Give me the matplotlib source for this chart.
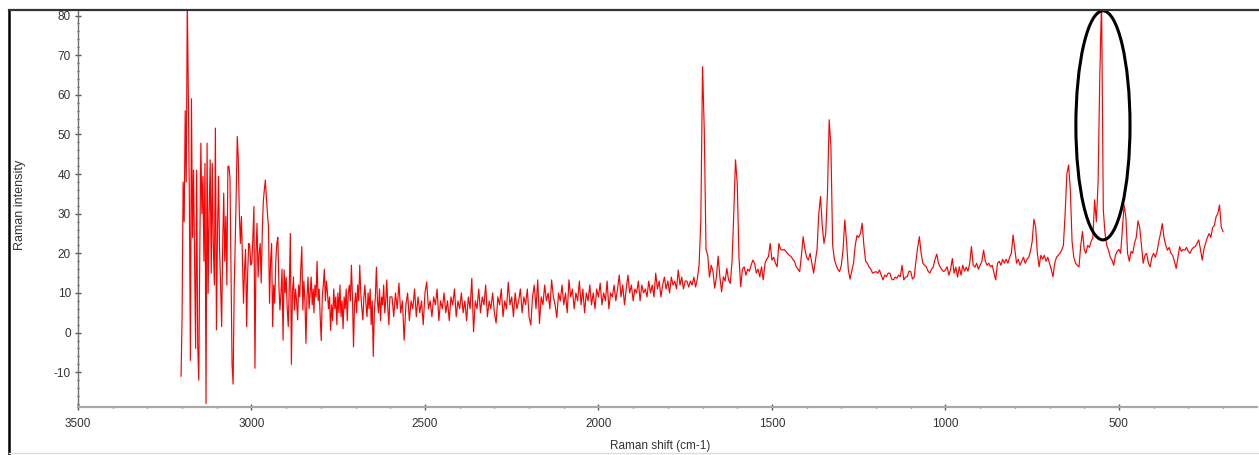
import numpy as np
import matplotlib
matplotlib.use("Agg")
import matplotlib.pyplot as plt
from matplotlib.patches import Ellipse
from matplotlib.lines import Line2D
from matplotlib.ticker import MultipleLocator

plt.rcParams['font.family'] = ['Liberation Sans', 'DejaVu Sans']
plt.rcParams['axes.unicode_minus'] = False

# ---- data ----
# segment 1: 3203 -> 2822 cm-1, step 3
seg1_start, seg1_step = 3203, -3
seg1_vals = [-11, 4, 38, 28, 56, 38, 84, 60, 33, -7, 59, 24, 41, 18, -4, 41, -3, -12, 20, 47.8,
             30, 39.4, 18, 42.7, -17.9, 47.8, 9.9, 30, 43.6, 15, 42.7, 22, 12, 51.6, 0.7, 25, 39.4, 20.9, 12, 1.5,
             22, 35.2, 18, 29.3, 12, 41.9, 42, 39, 15, -8, -13, 10, 22.5, 35, 49.5, 44, 30, 22.5, 29.3, 18,
             7.4, 16, 21, 1.5, 15, 22.5, 22, 17, 17.5, 24, 31.8, -9, 20, 27.6, 14, 20, 22.5, 12.5, 25, 33,
             36, 38.5, 34, 30, 26.7, 7.4, 18, 22.5, 1.5, 12, 7.4, 18, 22.5, 24, 12, 5.7, 9.9, 16, -1.9, 15.8,
             10, 14, 6, 1.5, 12, 25, -8, 10, 14, 5.7, 11, 8, 3.2, 12, 9, 16, 21.7, 5.7, 13, 8,
             -2.7, 9, 14, 6, 10, 14, 7, 11]
# segment 2: 2820 -> 2601 cm-1, step 3
seg2_start, seg2_step = 2820, -3
seg2_vals = [5, 12, 9, 18, 8, 11, 4, -2, 9, 12, 16, 8, 13, 10, 6, 9, 0.6, 7, 3, 11,
             6, 9, 2, 10, 5, 12, 4, 8, 1, 9, 6, 11, 3, 10, 12, 8, 17, 9, -3.6, 7,
             10, 5, 12, 8, 17, 10, 6, 3.2, 9, 12, 7, 4, 10, 6, 11, 2, 8, -6, 5, 9,
             16.5, 8, 5, 11, 3, 9, 7, 12, 5, 8, 13.3, 6, 2, 9]
# segment 3: 2595 -> 1750 cm-1, step 5
seg3_start, seg3_step = 2595, -5
seg3_vals = [9, 4, 10, 6, 12.5, 5, 8, -1.9, 7, 10, 3, 8, 6, 11, 4, 9, 5, 8, 2, 10,
             12.8, 6, 8, 4, 9, 7, 11, 3, 8, 6, 10, 5, 8, 3, 9, 7, 11, 4, 8, 6,
             10, 5, 8, 3, 9, 6, 13.7, 0.2, 8, 6, 11, 5, 9, 7, 12, 4, 8, 6, 10, 5,
             2.4, 9, 7, 11, 4, 8, 6, 12.7, 7, 9, 4, 10, 6, 8, 11, 5, 9, 7, 11, 4,
             1.9, 9, 12, 6, 13.3, 2.3, 9, 7, 12, 8, 10, 6, 13.3, 9, 7, 3.8, 10, 8, 12, 7,
             10, 5, 13.3, 9, 11, 6, 10, 8, 13, 7, 11, 5, 10, 8, 12, 7, 10, 6, 11, 9,
             12.5, 7, 10, 8, 13, 6, 10, 9, 12, 8, 11, 14.5, 9, 12, 7, 11, 14.5, 10, 12, 8,
             11, 10, 13, 8, 12, 10, 11, 9, 13, 10, 12, 9, 15, 11, 13, 9, 12, 14, 11, 13,
             10, 14, 12, 13, 11, 15.8, 12, 14, 11, 13]
# segment 4: 1745 -> 200 cm-1, step 5
seg4_start, seg4_step = 1745, -5
seg4_vals = [13, 11.5, 13, 12, 14, 11.5, 13.5, 17, 28, 67.1, 51, 21, 19.5, 14, 17, 15.5, 11.2, 14, 19.3, 14,
             10.3, 14.1, 13, 16.2, 13.3, 12.4, 18, 30, 43.6, 37.7, 19, 11.6, 16, 16.6, 14.5, 16, 15.5, 17, 18.3, 17.5,
             15, 16, 14.1, 16.6, 13.3, 17.5, 18.5, 19.2, 22.5, 18.3, 19, 17.5, 16.6, 22.5, 21, 20.8, 21, 20.5, 20, 19.5,
             19.2, 18.5, 18, 16.6, 16, 15.4, 19.5, 24.2, 21, 19, 18.3, 20, 17.5, 15, 18, 21, 30, 34.3, 27, 22.5,
             25, 35, 53.7, 47, 22, 18.5, 17, 16, 15.4, 17, 21, 28.4, 23, 16, 13.5, 15.5, 17.5, 22, 24.5, 24,
             25, 27.6, 22, 18, 17.5, 16.5, 16, 15, 15.2, 15.4, 15, 15.8, 14.5, 13.3, 14.5, 14.1, 15, 15, 13.5, 13.3,
             14, 13.7, 14.5, 14.1, 17, 13.3, 14, 14.1, 15.5, 15.4, 13.5, 14, 18, 21.5, 24.2, 20, 17.5, 17, 16.6, 15.5,
             15, 16, 16.6, 18.5, 19.8, 17.5, 16.5, 15.8, 15.4, 15.8, 16.6, 14.5, 16, 18.7, 15, 16.5, 14, 16.6, 14.5, 17,
             15.5, 16.5, 15.5, 17.5, 21.7, 17, 16.5, 17.5, 16, 17, 18, 20.8, 18, 17, 17.5, 16.6, 17, 15, 13.3, 17.5,
             18, 17, 18.5, 17.5, 18.5, 17.5, 19, 20, 24.6, 21, 17.5, 18.5, 17, 18, 19, 17.5, 18.5, 19, 20.5, 23,
             28.6, 26.6, 20, 16.6, 19.5, 18.5, 19.5, 18, 19, 17.5, 16, 14.1, 17.5, 19, 19.5, 20, 20.8, 22, 30, 40,
             42.3, 36, 23, 19, 17.5, 17, 16.6, 22, 25.5, 21, 20, 22, 21.5, 23, 24, 33.5, 28, 38, 65, 84,
             31, 25, 22, 20.8, 19, 18.3, 17, 19.5, 20.5, 21, 20, 26, 32.2, 29.2, 20, 18, 20.5, 20, 22.6, 24,
             28.2, 26.5, 22, 17.5, 19.5, 20, 17.5, 16.6, 19, 20, 19, 20.5, 23, 25, 27.5, 24, 22, 20.8, 21.5, 20,
             19.5, 18, 16.2, 19, 21.7, 20.5, 21, 20.8, 21.5, 20.5, 20, 21, 21.5, 21.7, 22.5, 23.4, 21, 18.3, 21, 22.6,
             24, 25, 24, 26.5, 27, 29.2, 30, 32.2, 26.6, 25.5]

segments = [(seg1_start, seg1_step, seg1_vals), (seg2_start, seg2_step, seg2_vals),
            (seg3_start, seg3_step, seg3_vals), (seg4_start, seg4_step, seg4_vals)]
shift = np.concatenate([s + st * np.arange(len(v)) for s, st, v in segments])
intensity = np.concatenate([np.asarray(v, float) for _, _, v in segments])

# highlighted peak (annotation ellipse)
ellipse_center = (546, 52.3)
ellipse_size = (156, 57.8)

x_label = "Raman shift (cm-1)"
y_label = "Raman intensity"

# ---- figure ----
W, H = 1259, 455
fig = plt.figure(figsize=(W / 100, H / 100), dpi=100)
ax = fig.add_axes([78 / W, (H - 406.7) / H, (1257 - 78) / W, (406.7 - 10) / H])

ax.plot(shift, intensity, color='#ff0000', lw=0.85, zorder=3)
ax.add_patch(Ellipse(ellipse_center, ellipse_size[0], ellipse_size[1], fill=False,
                     edgecolor='black', lw=2.2, zorder=4))

ax.set_xlim(3500, 102)
ax.set_ylim(-18.7, 81.4)
ax.xaxis.set_major_locator(MultipleLocator(500))
ax.xaxis.set_minor_locator(MultipleLocator(100))
ax.yaxis.set_major_locator(MultipleLocator(10))
ax.yaxis.set_minor_locator(MultipleLocator(2))

for s in ('top', 'right'):
    ax.spines[s].set_visible(False)
ax.spines['left'].set_color('#707070')
ax.spines['left'].set_linewidth(1.0)
ax.spines['bottom'].set_color('#a8a8a8')
ax.spines['bottom'].set_linewidth(1.6)

ax.tick_params(axis='both', which='major', direction='inout', length=4, width=1,
               color='#555555', labelsize=8.5, labelcolor='#333333')
ax.tick_params(axis='both', which='minor', direction='inout', length=1.8, width=0.9,
               color='#555555')
ax.tick_params(axis='x', pad=6)
ax.tick_params(axis='y', pad=3)

ax.set_xlabel(x_label, fontsize=8.5, color='#333333')
ax.xaxis.set_label_coords((660 - 78) / (1257 - 78), (406.7 - 440) / (406.7 - 10))
ax.set_ylabel(y_label, fontsize=9, color='#333333')
ax.yaxis.set_label_coords((26 - 78) / (1257 - 78), (406.7 - 205) / (406.7 - 10))

# window frame
fx = 9 / W
fy = 1 - 10 / H
fig.add_artist(Line2D([fx, fx], [0, fy], color='black', lw=1.8, transform=fig.transFigure))
fig.add_artist(Line2D([fx, 1], [fy, fy], color='#333333', lw=1.6, transform=fig.transFigure))
fig.add_artist(Line2D([fx, 1], [2 / H, 2 / H], color='#dddddd', lw=1.0, transform=fig.transFigure))

fig.savefig("out.png", dpi=100)
